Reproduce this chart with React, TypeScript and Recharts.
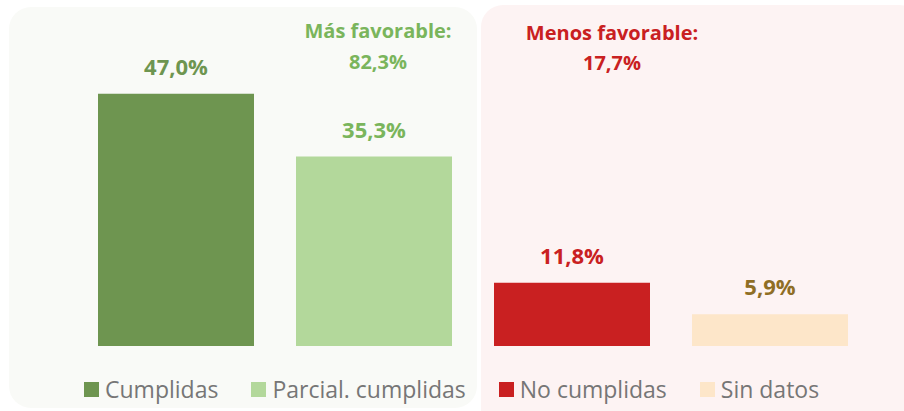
import React from 'react';
import { BarChart, Bar, XAxis, YAxis, Cell, LabelList } from 'recharts';

const categories = ['Cumplidas', 'Parcial. cumplidas', 'No cumplidas', 'Sin datos'];
const values = [47.0, 35.3, 11.8, 5.9];
const valueLabels = ['47,0%', '35,3%', '11,8%', '5,9%'];
const barColors = ['#6E9550', '#B3D89B', '#C92021', '#FDE6C9'];
const labelColors = ['#6E9550', '#7AB55C', '#C92021', '#8F6E25'];
const groupTitles = ['Más favorable:', 'Menos favorable:'];
const groupTotals = ['82,3%', '17,7%'];

const data = categories.map((name, i) => ({ name, value: values[i], label: valueLabels[i] }));

const FONT = '"Open Sans", "Noto Sans", sans-serif';

const BarLabel = (props: any) => {
  const { x, y, width, index } = props;
  return (
    <text
      x={x + width / 2}
      y={y - 19}
      textAnchor="middle"
      fill={labelColors[index]}
      fontFamily={FONT}
      fontWeight={700}
      fontSize={22}
    >
      {valueLabels[index]}
    </text>
  );
};

export default function App() {
  return (
    <div style={{ position: 'absolute', left: 0, top: 0, width: 904, height: 411, overflow: 'hidden', background: '#fff' }}>
      <svg width={904} height={411} style={{ position: 'absolute', left: 0, top: 0 }}>
        <rect x={9} y={7} width={468} height={401} rx={22} ry={22} fill="#F9FAF7" />
        <rect x={481} y={5} width={440} height={430} rx={22} ry={22} fill="#FDF3F3" />
        <text x={378} y={38} textAnchor="middle" fill="#7AB55C" fontFamily={FONT} fontWeight={700} fontSize={20}>
          {groupTitles[0]}
        </text>
        <text x={378} y={69} textAnchor="middle" fill="#7AB55C" fontFamily={FONT} fontWeight={700} fontSize={20}>
          {groupTotals[0]}
        </text>
        <text x={612} y={40} textAnchor="middle" fill="#C92021" fontFamily={FONT} fontWeight={700} fontSize={20}>
          {groupTitles[1]}
        </text>
        <text x={612} y={70} textAnchor="middle" fill="#C92021" fontFamily={FONT} fontWeight={700} fontSize={20}>
          {groupTotals[1]}
        </text>
      </svg>
      <div style={{ position: 'absolute', left: 0, top: 0 }}>
        <BarChart
          width={904}
          height={411}
          data={data}
          margin={{ top: 24, right: 35, bottom: 65, left: 77 }}
          barCategoryGap={21}
        >
          <XAxis dataKey="name" hide />
          <YAxis hide domain={[0, 60]} />
          <Bar dataKey="value" isAnimationActive={false}>
            {data.map((d, i) => (
              <Cell key={d.name} fill={barColors[i]} />
            ))}
            <LabelList dataKey="value" content={BarLabel} />
          </Bar>
        </BarChart>
      </div>
      <div
        style={{
          position: 'absolute',
          left: 84,
          top: 374,
          height: 30,
          display: 'flex',
          alignItems: 'center',
          fontFamily: FONT,
          fontSize: 23,
          color: '#767676',
          whiteSpace: 'nowrap',
        }}
      >
        {categories.map((c, i) => (
          <div key={c} style={{ display: 'flex', alignItems: 'center', marginRight: 33 }}>
            <span style={{ display: 'inline-block', width: 15, height: 15, background: barColors[i], marginRight: 6 }} />
            <span>{c}</span>
          </div>
        ))}
      </div>
    </div>
  );
}
